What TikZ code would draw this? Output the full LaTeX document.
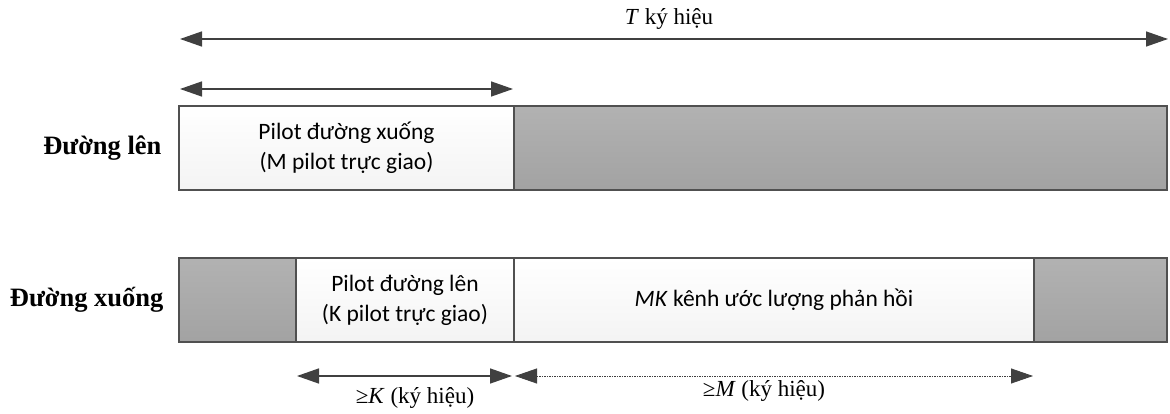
\documentclass[tikz,border=0pt]{standalone}
\usepackage{fontspec}
\setmainfont{Liberation Serif}
\newfontfamily\boxfont{Carlito}
\usetikzlibrary{arrows.meta}
\definecolor{edge}{HTML}{505050}
\definecolor{arr}{HTML}{404040}
\definecolor{grayfill}{HTML}{ABABAB}
\tikzset{
  x=1pt, y=-1pt,
  slot/.style={draw=edge, line width=1.2pt, inner sep=0pt, outer sep=0pt, anchor=north west,
    minimum height=84pt, font=\boxfont\fontsize{23.5}{30}\selectfont, align=center},
  whitebox/.style={slot, top color=white, bottom color=gray!9},
  graybox/.style={slot, top color=grayfill!92!white, bottom color=grayfill!95!black},
  dim/.style={draw=arr, line width=1.4pt, {Triangle[length=22pt,width=15pt]}-{Triangle[length=22pt,width=15pt]}},
  rowlabel/.style={font=\bfseries\fontsize{26.5}{30}\selectfont},
  dimlabel/.style={font=\fontsize{23}{27}\selectfont}
}
\begin{document}
\begin{tikzpicture}
\useasboundingbox (0,0) rectangle (1170,414);
% uplink row
\node[whitebox, minimum width=335pt] (ulp) at (179,106) {Pilot đường xuống\\(M pilot trực giao)};
\node[graybox, minimum width=653pt] (uld) at (514,106) {};
\node[rowlabel, anchor=east] (ullab) at (165,148) {Đường lên};
% downlink row
\node[graybox, minimum width=117pt] (dl0) at (179,258) {};
\node[whitebox, minimum width=218pt] (dlp) at (296,258) {Pilot đường lên\\(K pilot trực giao)};
\node[whitebox, minimum width=520pt] (dlf) at (514,258) {\textit{MK} kênh ước lượng phản hồi};
\node[graybox, minimum width=133pt] (dl1) at (1034,258) {};
\node[rowlabel, anchor=east] (dllab) at (167,300) {Đường xuống};
% top arrows
\coordinate (ta) at (180,39);
\coordinate (tb) at (1168,39);
\draw[dim] (ta) -- (tb);
\node[dimlabel] (tlab) at (669,19) {\textit{T} ký hiệu};
\coordinate (ma) at (180,89);
\coordinate (mb) at (513,89);
\draw[dim] (ma) -- (mb);
% bottom arrows
\coordinate (ka) at (297,376);
\coordinate (kb) at (512,376);
\coordinate (mma) at (515,376);
\coordinate (mmb) at (1033,376);
\draw[dim] (ka) -- (kb);
\draw[dim, line width=0.8pt, dash pattern=on 1.5pt off 1pt] (mma) -- (mmb);
\node[dimlabel] (klab) at (415,398) {≥\textit{K} (ký hiệu)};
\node[dimlabel] (mlab) at (764,391) {≥\textit{M} (ký hiệu)};
\end{tikzpicture}
\end{document}
